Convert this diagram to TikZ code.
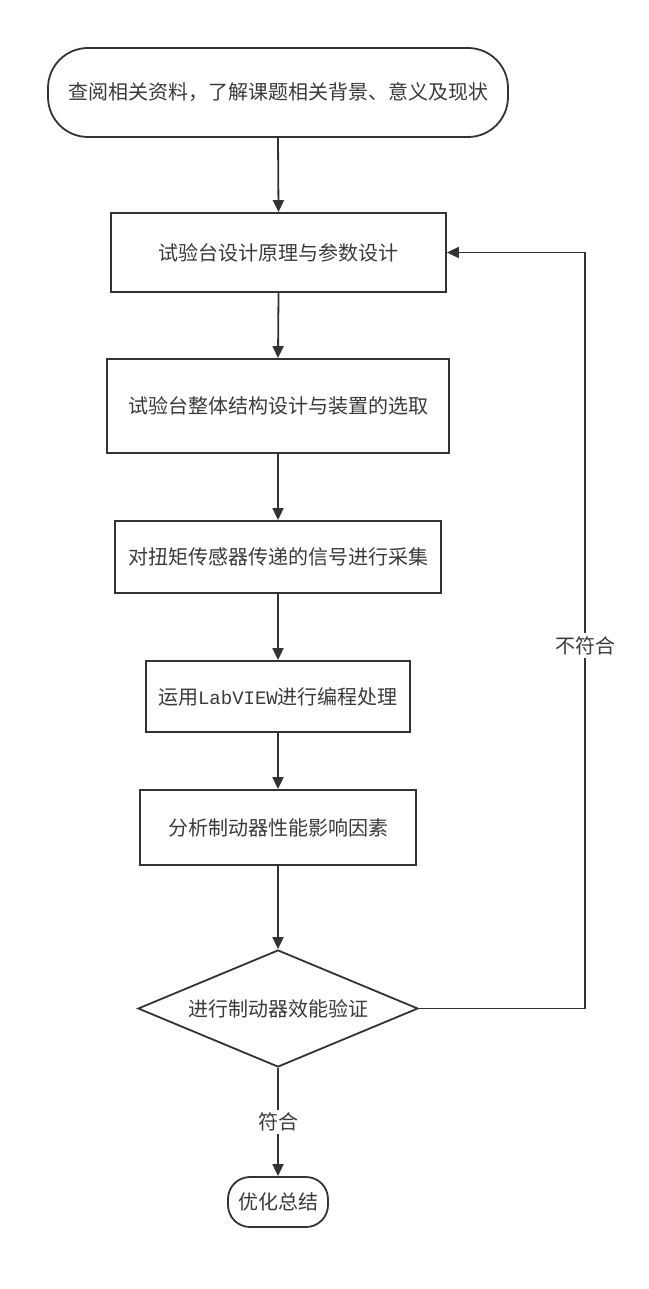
\documentclass[tikz,border=0pt]{standalone}
\usepackage{fontspec}
\setmainfont{Noto Sans CJK SC}
\newfontfamily\latinmono{Liberation Mono}
\usetikzlibrary{shapes.geometric,arrows.meta}
\definecolor{ln}{HTML}{333333}
\definecolor{tx}{HTML}{3A3A3A}
\tikzset{
  base/.style={draw=ln, line width=1.8pt, text=tx, font=\fontsize{20}{23}\selectfont, inner sep=0pt, fill=white},
  procbox/.style={base, rectangle},
  termbox/.style={base, rectangle},
  decbox/.style={base, diamond, aspect=2.4},
  conn/.style={draw=ln, line width=1.8pt, -{Triangle[length=12pt,width=11pt]}},
  plain/.style={draw=ln, line width=1.8pt},
  lbl/.style={fill=white, text=tx, font=\fontsize{20}{23}\selectfont, inner sep=3pt}
}
\begin{document}
\begin{tikzpicture}[x=1pt,y=-1pt]
\useasboundingbox (0,0) rectangle (648,1289);
\node[termbox, minimum width=460pt, minimum height=89pt, rounded corners=40pt] (start) at (278,92.5) {查阅相关资料，了解课题相关背景、意义及现状};
\node[procbox, minimum width=335pt, minimum height=79pt] (b1) at (278.5,252.5) {试验台设计原理与参数设计};
\node[procbox, minimum width=342pt, minimum height=94pt] (b2) at (278,406) {试验台整体结构设计与装置的选取};
\node[procbox, minimum width=326pt, minimum height=72pt] (b3) at (278,557) {对扭矩传感器传递的信号进行采集};
\node[procbox, minimum width=264pt, minimum height=71pt] (b4) at (278,696.5) {运用{\latinmono\fontsize{19}{23}\selectfont LabVIEW}进行编程处理};
\node[procbox, minimum width=276pt, minimum height=75pt] (b5) at (278,827.5) {分析制动器性能影响因素};
\node[decbox, minimum width=280pt, minimum height=117pt] (dec) at (278,1008.5) {进行制动器效能验证};
\node[termbox, minimum width=100pt, minimum height=50pt, rounded corners=22pt] (end) at (278,1202) {优化总结};
\coordinate (rc) at (585,1008.5);
\coordinate (rt) at (585,252.5);
\draw[conn] (start.south) -- (b1.north);
\draw[conn] (b1.south) -- (b2.north);
\draw[conn] (b2.south) -- (b3.north);
\draw[conn] (b3.south) -- (b4.north);
\draw[conn] (b4.south) -- (b5.north);
\draw[conn] (b5.south) -- (dec.north);
\draw[conn] (dec.south) -- node[lbl, pos=0.5] (yes) {符合} (end.north);
\draw[plain] (dec.east) -- (rc);
\draw[conn] (rc) -- node[lbl, pos=0.48] (no) {不符合} (rt) -- (b1.east);
\end{tikzpicture}
\end{document}
